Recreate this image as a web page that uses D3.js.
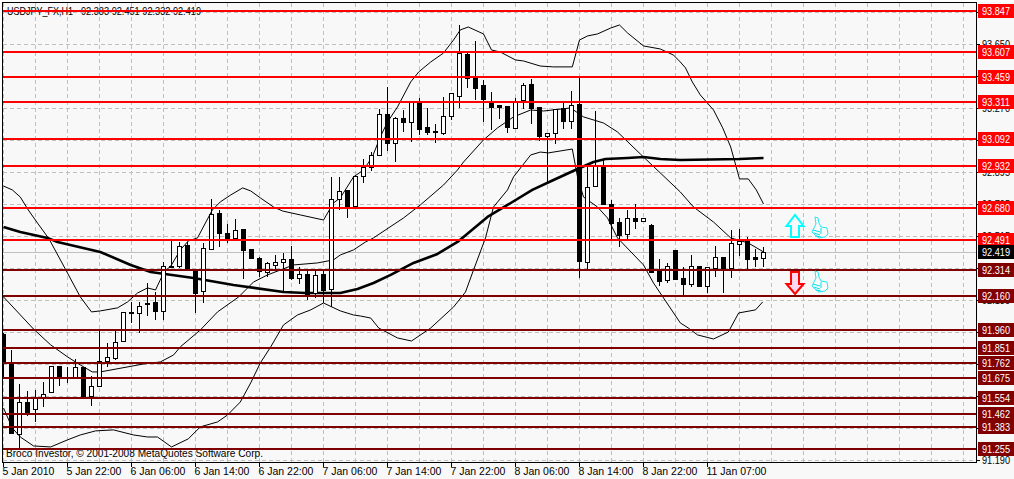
<!DOCTYPE html>
<html><head><meta charset="utf-8">
<script src="https://cdnjs.cloudflare.com/ajax/libs/d3/7.8.5/d3.min.js"></script>
<style>
html,body{margin:0;padding:0;background:#fff;overflow:hidden}
svg{display:block}
text{font-family:"Liberation Sans",Arial,sans-serif;font-size:10.5px}
</style></head><body><svg id="c" width="1014" height="479"></svg>
<script>
const open=[91.935,91.752,91.344,91.533,91.486,91.563,91.586,91.741,91.676,91.670,91.735,91.563,91.623,91.770,91.794,91.888,92.054,92.060,92.113,92.119,92.066,92.326,92.332,92.457,92.308,92.184,92.439,92.651,92.533,92.498,92.551,92.433,92.380,92.296,92.338,92.356,92.374,92.267,92.290,92.172,92.285,92.196,92.729,92.782,92.687,92.865,92.918,92.989,93.232,93.060,93.208,93.190,93.308,93.155,93.131,93.119,93.220,93.344,93.592,93.450,93.403,93.308,93.285,93.279,93.155,93.314,93.409,93.273,93.102,93.119,93.267,93.190,93.291,92.362,92.805,92.930,92.699,92.593,92.522,92.616,92.598,92.575,92.308,92.249,92.427,92.261,92.225,92.332,92.214,92.320,92.386,92.320,92.462,92.486,92.386,92.383];
const high=[91.941,91.841,91.640,91.598,91.604,91.652,91.741,91.741,91.741,91.788,91.735,91.688,91.953,91.882,91.953,92.066,92.125,92.125,92.237,92.184,92.362,92.486,92.480,92.480,92.314,92.474,92.735,92.669,92.587,92.616,92.551,92.433,92.392,92.362,92.403,92.415,92.457,92.332,92.314,92.320,92.314,92.865,92.865,92.782,92.877,92.971,93.012,93.267,93.397,93.220,93.261,93.308,93.332,93.273,93.178,93.338,93.356,93.764,93.598,93.669,93.439,93.368,93.285,93.279,93.332,93.421,93.445,93.273,93.119,93.267,93.308,93.373,93.456,92.936,93.255,92.965,92.729,92.622,92.669,92.705,92.616,92.587,92.380,92.356,92.427,92.332,92.403,92.332,92.332,92.457,92.392,92.551,92.557,92.510,92.439,92.451];
const low=[91.682,91.344,91.262,91.450,91.415,91.504,91.586,91.628,91.646,91.670,91.551,91.510,91.623,91.741,91.782,91.888,92.001,91.941,92.042,92.019,92.019,92.326,92.326,92.320,92.060,92.119,92.439,92.451,92.474,92.498,92.261,92.380,92.273,92.273,92.314,92.184,92.255,92.231,92.137,92.149,92.119,92.095,92.669,92.622,92.687,92.829,92.900,92.989,93.018,92.953,93.131,93.072,93.113,93.113,93.066,93.113,93.202,93.273,93.391,93.320,93.190,93.143,93.208,93.125,93.155,93.267,93.178,93.078,92.835,93.060,93.149,93.149,92.267,92.320,92.805,92.699,92.498,92.451,92.498,92.557,92.598,92.296,92.219,92.237,92.255,92.166,92.214,92.214,92.178,92.273,92.178,92.267,92.397,92.320,92.332,92.332];
const close=[91.764,91.344,91.533,91.474,91.551,91.580,91.741,91.682,91.670,91.735,91.551,91.623,91.770,91.794,91.888,92.060,92.060,92.101,92.107,92.066,92.332,92.332,92.451,92.320,92.178,92.439,92.645,92.533,92.492,92.545,92.427,92.380,92.302,92.350,92.356,92.374,92.261,92.290,92.172,92.279,92.190,92.729,92.776,92.687,92.865,92.918,92.989,93.232,93.060,93.208,93.184,93.308,93.149,93.125,93.125,93.220,93.356,93.598,93.450,93.391,93.320,93.279,93.273,93.155,93.308,93.403,93.267,93.102,93.119,93.261,93.190,93.285,92.362,92.805,92.930,92.699,92.587,92.516,92.616,92.598,92.616,92.296,92.249,92.332,92.255,92.225,92.332,92.214,92.326,92.386,92.320,92.468,92.480,92.374,92.374,92.419];

const upperBars=[0,1.1,2.1,3.1,4.25,5.6,5.9,8,9.6,11,12.1,14.25,15.5,16.75,18,19,20,21,22.1,23.1,24.25,26.1,27.1,28.4,29.9,30.9,32.1,33.75,34.9,37.1,40,41.25,42.1,43.75,45,46.1,47.1,48,49.25,50.9,51.9,53.4,55,56.25,57.1,58.1,60,61,62.1,64,65,67.1,68.75,71.1,72,73,74.25,75.9,77,78,80,82.1,83.75,84.6,85.25,86.1,87.1,88.75,89.9,90.9,92,93.1,94.1,95];
const upperVals=[92.811,92.788,92.746,92.669,92.592,92.504,92.480,92.296,92.155,92.066,92.072,92.090,92.125,92.178,92.208,92.196,92.296,92.344,92.433,92.486,92.504,92.669,92.717,92.758,92.800,92.782,92.741,92.687,92.663,92.640,92.610,92.711,92.741,92.865,92.906,92.983,93.102,93.190,93.279,93.427,93.486,93.545,93.598,93.675,93.735,93.752,93.711,93.616,93.604,93.557,93.551,93.521,93.516,93.516,93.675,93.699,93.711,93.746,93.764,93.717,93.640,93.622,93.586,93.545,93.510,93.427,93.350,93.261,93.155,93.042,92.853,92.853,92.788,92.705];
const lowerBars=[0,1.1,2.1,3.75,5.9,8,9.6,11.5,13.75,16.25,18,19.25,21,23.1,24.6,26.75,28,29.6,30.9,32.1,33.4,35,36.75,38.4,40,42.1,43.75,44.6,45.9,46.9,49.25,51,53.4,56.25,57.75,58.75,60.25,61.25,63,63.75,65.9,67.1,68.1,71.1,71.75,72.5,74.25,75.5,76.75,80,81.25,84.6,85.6,86.75,88.75,90.6,91.9,94,94.9];
const lowerVals=[91.498,91.379,91.326,91.273,91.267,91.309,91.338,91.362,91.368,91.338,91.326,91.326,91.267,91.315,91.386,91.415,91.456,91.533,91.646,91.764,91.859,91.989,92.048,92.078,92.119,92.072,92.048,92.042,92.030,91.971,91.912,91.894,91.971,92.095,92.184,92.314,92.504,92.687,92.788,92.865,92.995,93.012,93.007,93.030,92.865,92.746,92.687,92.622,92.504,92.344,92.237,92.001,91.971,91.930,91.906,91.947,92.060,92.078,92.125];
const midBars=[0,3.75,5.9,8,9.6,11.1,12.1,17.5,19.6,21.25,22.1,24.6,26.75,29.4,31.25,33,34.6,36.25,39.25,41.25,42.1,43.75,45.25,46.25,50,52.1,55,56.75,57.5,60,61.75,63.75,65.9,67.5,70.9,72.5,75,76.75,79.6,84.6,86.25,88.75,90.9,93.1,95];
const midVals=[92.155,91.965,91.871,91.800,91.752,91.711,91.711,91.758,91.770,91.811,91.859,91.959,92.066,92.155,92.243,92.285,92.314,92.344,92.356,92.374,92.403,92.433,92.480,92.504,92.622,92.699,92.817,92.906,92.953,93.084,93.155,93.220,93.261,93.255,93.273,93.220,93.184,93.131,93.001,92.776,92.687,92.598,92.504,92.474,92.421];
const maBars=[0,2.1,5.5,6.75,12.1,15.9,18.4,23.75,28.75,35,37.75,42.1,44.25,46.25,48.4,51.25,54.25,56.75,60.5,63,66.1,68.75,71.75,73.75,75.25,78,80,82.1,84.6,92,95];
const maVals=[92.569,92.539,92.504,92.480,92.421,92.344,92.302,92.267,92.225,92.184,92.178,92.178,92.202,92.237,92.285,92.356,92.409,92.480,92.628,92.699,92.788,92.847,92.912,92.953,92.971,92.977,92.983,92.971,92.965,92.971,92.977];

const redLevels=[93.847,93.607,93.459,93.311,93.092,92.932,92.680,92.491];
const darkLevels=[92.314,92.160,91.960,91.851,91.762,91.675,91.554,91.462,91.383,91.255];
const priceTicks=["93.840","93.650","93.460","93.270","93.080","92.895","92.705","92.515","92.325","92.135","91.945","91.755","91.565","91.375","91.190"];
const timeLabels=["5 Jan 2010","5 Jan 22:00","6 Jan 06:00","6 Jan 14:00","6 Jan 22:00","7 Jan 06:00","7 Jan 14:00","7 Jan 22:00","8 Jan 06:00","8 Jan 14:00","8 Jan 22:00","11 Jan 07:00"];
const currentPrice=92.419;
const symbolText="USDJPY_FX,H1";
const ohlcText="92.383 92.451 92.332 92.419";
const creditText="Broco Investor, © 2001-2008 MetaQuotes Software Corp.";

const svg=d3.select("#c");
const L=3,R=976,T=3,B=462;
const x=d3.scaleLinear().domain([0,121.5]).range([3.5,975.5]);
const y=d3.scaleLinear().domain([93.9,91.178]).range([2,462]);
const crisp=v=>Math.round(v-0.5)+0.5;
const fit=(sel,w)=>sel.attr("textLength",w).attr("lengthAdjust","spacingAndGlyphs");

svg.append("rect").attr("x",2).attr("y",2).attr("width",1012).attr("height",477).attr("fill","#f8f8f8");
svg.append("defs").append("clipPath").attr("id","plot").append("rect")
  .attr("x",L).attr("y",T).attr("width",R-L).attr("height",B-T);

// grid: one horizontal line per price tick, one vertical per 4 bars
const gridY=priceTicks.map((d,i)=>12.5+32*i);
const gridBars=d3.range(0,121,4);
const grid=svg.append("g").attr("stroke","#c0c0c0").attr("stroke-width",1).attr("stroke-dasharray","4 3").attr("fill","none").attr("shape-rendering","crispEdges");
grid.selectAll(".gx").data(gridBars).join("line").attr("x1",d=>x(d)).attr("x2",d=>x(d)).attr("y1",T).attr("y2",B);
grid.selectAll(".gy").data(gridY).join("line").attr("x1",L).attr("x2",R).attr("y1",d=>d).attr("y2",d=>d);

const plot=svg.append("g").attr("clip-path","url(#plot)");
// bid line
plot.append("line").attr("x1",L).attr("x2",R).attr("y1",crisp(y(currentPrice))).attr("y2",crisp(y(currentPrice))).attr("stroke","#c0c0c0");

// curves
const line=d3.line().x(d=>x(d[0])).y(d=>y(d[1]));
const curve=(bars,vals,w)=>plot.append("path").attr("d",line(bars.map((b,i)=>[b,vals[i]])))
  .attr("fill","none").attr("stroke","#000").attr("stroke-width",w).attr("stroke-linejoin","round");
curve(upperBars,upperVals,1);
curve(midBars,midVals,1);
curve(lowerBars,lowerVals,1);
curve(maBars,maVals,2.6);

// candles
const bars=d3.range(open.length);
const g=plot.append("g").attr("shape-rendering","crispEdges");
g.selectAll(".w").data(bars).join("line")
  .attr("x1",i=>x(i)).attr("x2",i=>x(i)).attr("y1",i=>y(high[i])).attr("y2",i=>y(low[i])).attr("stroke","#000");
g.selectAll(".b").data(bars).join("rect")
  .attr("x",i=>x(i)-2).attr("width",4)
  .attr("y",i=>crisp(y(Math.max(open[i],close[i]))))
  .attr("height",i=>Math.max(1,Math.round(Math.abs(y(open[i])-y(close[i])))))
  .attr("fill",i=>close[i]>=open[i]?"#fff":"#000").attr("stroke","#000");

// top-left and credit text (beneath level lines)
fit(svg.append("text").attr("x",7).attr("y",15).attr("fill","#000").text(symbolText),66);
fit(svg.append("text").attr("x",81).attr("y",15).attr("fill","#000").text(ohlcText),120);
fit(svg.append("text").attr("x",6).attr("y",457).attr("fill","#000").text(creditText),257);

// horizontal levels
const lv=svg.append("g").attr("shape-rendering","crispEdges").attr("clip-path","url(#plot)");
const lvRow=(data,c)=>lv.append("g").selectAll("line").data(data).join("line")
  .attr("x1",L).attr("x2",R).attr("y1",d=>Math.round(y(d))).attr("y2",d=>Math.round(y(d)))
  .attr("stroke",c).attr("stroke-width",2);
lvRow(redLevels,"#ff0000");
lvRow(darkLevels,"#800000");

// frame
svg.append("rect").attr("x",2.5).attr("y",2.5).attr("width",974).attr("height",460).attr("fill","none").attr("stroke","#000").attr("shape-rendering","crispEdges");

// x axis
const xa=svg.append("g");
xa.selectAll("line").data(timeLabels).join("line").attr("shape-rendering","crispEdges")
  .attr("x1",(d,i)=>x(i*8)).attr("x2",(d,i)=>x(i*8)).attr("y1",462).attr("y2",467).attr("stroke","#000");
xa.selectAll("text").data(timeLabels).join("text")
  .attr("x",(d,i)=>x(i*8)-1).attr("y",475).attr("fill","#000").text(d=>d);

// y axis
const ya=svg.append("g");
ya.selectAll("line").data(gridY).join("line").attr("shape-rendering","crispEdges")
  .attr("x1",976).attr("x2",980).attr("y1",d=>d).attr("y2",d=>d).attr("stroke","#000");
fit(ya.selectAll("text").data(priceTicks).join("text")
  .attr("x",982).attr("y",(d,i)=>gridY[i]+3.5).attr("fill","#000").text(d=>d),28);

// price labels
const tag=(p,bg)=>{
  const yy=Math.round(y(p));
  svg.append("rect").attr("x",978).attr("y",yy-7).attr("width",36).attr("height",14).attr("fill",bg);
  fit(svg.append("text").attr("x",982).attr("y",yy+4).attr("fill","#fff").text(p.toFixed(3)),28);
};
redLevels.forEach(p=>tag(p,"#ff0000"));
darkLevels.forEach(p=>tag(p,"#800000"));
tag(currentPrice,"#000");

// arrows and thumbs
const arrowBar=99, thumbBar=101.06;
const upTip=92.640, downTip=92.172, thumbUp=92.628, thumbDown=92.308;
svg.append("path").attr("transform",`translate(${x(arrowBar)-0.5},${y(upTip)})`)
  .attr("d","M0,0 L8.5,11 L4,11 L4,22 L-4,22 L-4,11 L-8.5,11 Z")
  .attr("fill","#f8f8f8").attr("stroke","#00ffff").attr("stroke-width",2);
svg.append("path").attr("transform",`translate(${x(arrowBar)-0.5},${y(downTip)})`)
  .attr("d","M0,0 L8.5,-10 L4,-10 L4,-22 L-4,-22 L-4,-10 L-8.5,-10 Z")
  .attr("fill","#ffd8f0").attr("stroke","#ff0000").attr("stroke-width",2);
const thumb=(p)=>{
  const t=svg.append("g").attr("transform",`translate(${x(thumbBar)},${y(p)})`)
    .attr("fill","#fafafa").attr("stroke","#20e8f0").attr("stroke-width",1);
  t.append("path").attr("d","M3,0 L6,1 L7,6 L9,10 L15,11 L16,17 L13,20 L7,21 L3,18 L0,15 L2,11 L4,7 Z");
  t.append("path").attr("d","M1,13 L8,15 M2,16 L8,18 M4,19 L9,20 M9,11 L9,17").attr("fill","none").attr("stroke","#00e0e8");
};
thumb(thumbUp);
thumb(thumbDown);
</script></body></html>
